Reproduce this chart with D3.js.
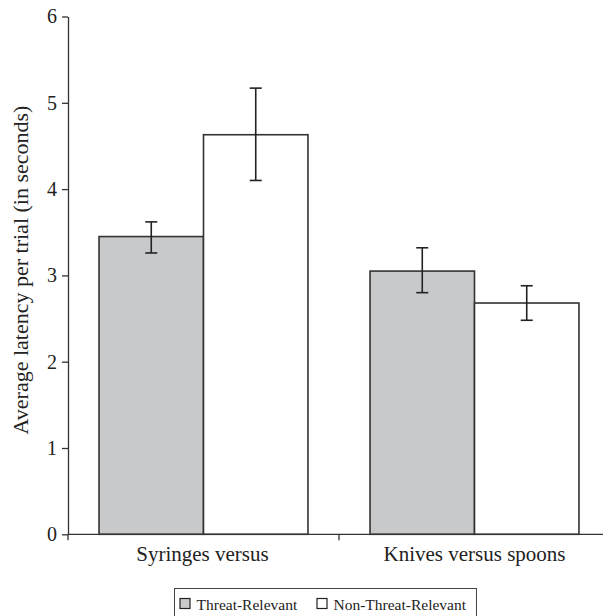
<!DOCTYPE html>
<html>
<head>
<meta charset="utf-8">
<script src="https://cdn.jsdelivr.net/npm/d3@7"></script>
<style>
  html, body { margin: 0; padding: 0; background: #fff; }
  svg { display: block; }
</style>
</head>
<body>
<svg id="chart" width="603" height="616"></svg>
<script>
const categories = ["Syringes versus", "Knives versus spoons"];
const seriesNames = ["Threat-Relevant", "Non-Threat-Relevant"];
const threatMeans = [3.45, 3.05];
const threatLow = [3.26, 2.80];
const threatHigh = [3.62, 3.32];
const nonThreatMeans = [4.63, 2.68];
const nonThreatLow = [4.10, 2.48];
const nonThreatHigh = [5.17, 2.88];
const yTicks = [0, 1, 2, 3, 4, 5, 6];
const seriesColors = ["#c8c9cb", "#ffffff"];

(function () {
const FONT = '"Liberation Serif"';
const svg = d3.select("#chart");
const mLeft = 68, mRight = 610, mTop = 16.5, mBottom = 534.3;

const x = d3.scaleBand().domain(categories).range([mLeft, mRight]).paddingInner(0).paddingOuter(0);
const xSub = d3.scaleBand().domain(seriesNames).range([0, x.bandwidth()]).paddingInner(0).paddingOuter(0.297);
const y = d3.scaleLinear().domain([0, 6]).range([mBottom, mTop]);

const data = [];
categories.forEach((c, i) => {
  data.push({cat: c, s: seriesNames[0], v: threatMeans[i], lo: threatLow[i], hi: threatHigh[i], col: seriesColors[0]});
  data.push({cat: c, s: seriesNames[1], v: nonThreatMeans[i], lo: nonThreatLow[i], hi: nonThreatHigh[i], col: seriesColors[1]});
});

// bars
svg.append("g").selectAll("rect").data(data).join("rect")
  .attr("x", d => x(d.cat) + xSub(d.s))
  .attr("y", d => y(d.v))
  .attr("width", xSub.bandwidth())
  .attr("height", d => y(0) - y(d.v))
  .attr("fill", d => d.col)
  .attr("stroke", "#333")
  .attr("stroke-width", 1.6);

// error bars
const eb = svg.append("g").attr("stroke", "#222").attr("stroke-width", 1.6);
data.forEach(d => {
  const cx = x(d.cat) + xSub(d.s) + xSub.bandwidth() / 2;
  eb.append("line").attr("x1", cx).attr("x2", cx).attr("y1", y(d.lo)).attr("y2", y(d.hi));
  eb.append("line").attr("x1", cx - 6).attr("x2", cx + 6).attr("y1", y(d.lo)).attr("y2", y(d.lo));
  eb.append("line").attr("x1", cx - 6).attr("x2", cx + 6).attr("y1", y(d.hi)).attr("y2", y(d.hi));
});

// y axis
const yAxis = svg.append("g").attr("transform", `translate(${mLeft},0)`)
  .call(d3.axisLeft(y).tickValues(yTicks).tickFormat(d3.format("d")).tickSize(6).tickSizeOuter(0).tickPadding(5));
yAxis.attr("font-family", FONT).attr("font-size", 20);
yAxis.select(".domain").attr("stroke", "#333").attr("stroke-width", 1.3);
yAxis.selectAll(".tick line").attr("stroke", "#333").attr("stroke-width", 1.3);
yAxis.selectAll(".tick text").attr("font-family", FONT).attr("font-size", 20).attr("fill", "#222");

// x axis
const xAxisG = svg.append("g").attr("transform", `translate(0,${mBottom})`);
xAxisG.append("line").attr("x1", mLeft).attr("x2", mRight).attr("y1", 0).attr("y2", 0)
  .attr("stroke", "#333").attr("stroke-width", 1.3);
const boundaries = [mLeft, x(categories[1]), mRight];
xAxisG.selectAll("line.tk").data(boundaries).join("line").attr("class", "tk")
  .attr("x1", d => d).attr("x2", d => d).attr("y1", 0).attr("y2", 6)
  .attr("stroke", "#333").attr("stroke-width", 1.3);
xAxisG.selectAll("text").data(categories).join("text")
  .attr("x", d => x(d) + x.bandwidth() / 2 + (d === categories[0] ? -1 : 0))
  .attr("y", 26.7)
  .attr("text-anchor", "middle")
  .attr("font-family", FONT)
  .attr("font-size", 21)
  .attr("fill", "#222")
  .text(d => d);

// y label
svg.append("text")
  .attr("transform", `translate(28,${(100 + 440) / 2}) rotate(-90)`)
  .attr("text-anchor", "middle")
  .attr("font-family", FONT)
  .attr("font-size", 22)
  .attr("fill", "#222")
  .text("Average latency per trial (in seconds)");

// legend
const lg = svg.append("g");
lg.append("rect").attr("x", 174.5).attr("y", 588.5).attr("width", 302).attr("height", 32)
  .attr("fill", "#fff").attr("stroke", "#444").attr("stroke-width", 1);
const legendX = [180, 317];
seriesNames.forEach((s, i) => {
  lg.append("rect").attr("x", legendX[i]).attr("y", 598.5).attr("width", 10).attr("height", 10)
    .attr("fill", seriesColors[i]).attr("stroke", "#222").attr("stroke-width", 1.2);
  lg.append("text").attr("x", legendX[i] + 16.5).attr("y", 609.5)
    .attr("font-family", FONT)
    .attr("font-size", 15.5)
    .attr("fill", "#222")
    .text(s);
});
})();
</script>
</body>
</html>
